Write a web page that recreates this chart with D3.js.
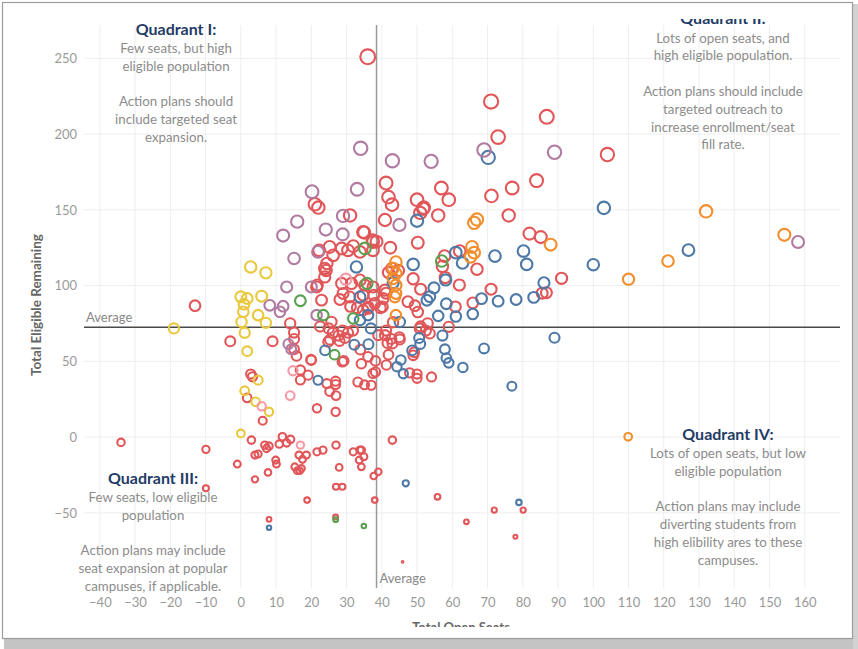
<!DOCTYPE html>
<html>
<head>
<meta charset="utf-8">
<script src="https://cdn.jsdelivr.net/npm/d3@7/dist/d3.min.js"></script>
<style>
  body { margin: 0; background: #fff; }
  svg { display: block; }
</style>
</head>
<body>
<svg id="chart" width="858" height="649"></svg>
<script>
// Points : [Total Open Seats, Total Eligible Remaining]
const redPoints = [
  [36,251],[71,221.5],[86.8,211.4],[73,198],[104,186.5],[41.2,167.7],[56.9,164.4],[59,156.7],[77,164.4],[83.9,169.3],
  [71.1,159.2],[41.9,158.4],[42.9,153.4],[50,156.7],[51.9,151.5],[50.9,148],[21,153.7],[22,151.5],[31,146.3],[56,146.3],
  [76,146.3],[40.9,143.3],[35,135],[34.7,135.4],[38.5,129],[50.2,128.3],[81.9,134.3],[85.1,132],[91,104.8],[85.5,95],
  [86.7,95.3],[71,97.6],[59,72.8],[60.9,86],[65.8,88.6],[62,100.4],[67,110.8],[62.1,122.8],[57.8,119.5],[57.2,112.7],
  [58,105.3],[51,97.6],[48.9,104.5],[49.4,86.7],[50.2,82.6],[52.5,70.3],[51,73],[49.2,56],[54.1,39.7],[50,38.8],
  [50,41.6],[41.3,47.6],[41.9,54.4],[38.2,50.3],[38.2,43],[37,34.2],[35.1,34.5],[33.2,36.4],[34.2,48.4],[33.9,57.7],
  [26.9,36.9],[26.9,34.7],[24.4,35.3],[25.2,30.1],[27,27.4],[16.9,37.7],[16.9,44.3],[19.9,51.1],[15.8,53.6],[15.1,58],
  [21.6,19],[26.9,16.7],[29.2,50.3],[15.1,69],[15.1,64.8],[14,75],[9,63.2],[-3,63.2],[-13,86.7],
  [37.4,130],[22.2,123.3],[25.2,125.5],[26.2,120],[28.6,124.5],[30.4,123.3],[31.9,126],[33.8,122.2],[37.5,123.3],[23.8,111.3],
  [23.8,105.7],[21.5,99.1],[22.9,90.4],[28.6,101.4],[31.4,101.4],[29,94.8],[30.9,92.5],[28.1,90.8],[34.7,93.7],[37.5,99.1],
  [36.1,86],[34.7,83.8],[25.7,76],[51.7,150.8],[40.9,97],[40.4,91.5],[40.2,86],[37.7,93.7],[38,88.2],[36.1,84.9],
  [33.8,103.6],[35.2,100.3],[37.5,128.8],[2.8,41.6],[3.3,39.8],[1.8,25.9],[6.2,10.8],[19.1,40.9],[20,50.8],[24.8,62.9],
  [28.8,49.7],[37.5,42],[53.6,68.4],[50.8,71.7],[53,75],[48.9,54],[47.9,42.4],[43,61.8],[45.1,64.4],[40.9,67.3],
  [39,67.3],[36.1,53],[21.7,100.4],[24.2,110],[24.4,114.6],[39.6,85.3],[41.2,95],[31.1,86.2],[33,85.3],[24.9,71.7],
  [26.1,68.9],[27.7,67],[28.9,70.3],[30.4,68.9],[29.5,65.4],[28,63.5],[31.8,70.3],[25.3,64.3],[22.5,73],[41.2,70.3],
  [42.7,64.8],[43.2,75.8],[45,65.9],[41.6,62.1],[47.4,89.4],[42.9,111.3],[41.9,108.6],[44.7,110],[42.4,125],
  [43,-2],[34.2,-8.6],[34.9,-13],[34.2,-19.6],[39,-22.9],[37.7,-25.7],[55.8,-39.4],[38,-41.6],[64,-55.9],[71.9,-48.2],
  [80.1,-48.2],[77.9,-65.8],[45.9,-82.3],[-9.9,-8.1],[-1,-17.8],[3,-2],[4,-11.9],[4.9,-11.2],[6.8,-5.3],[7.3,-7.5],
  [8,-5.9],[7.7,-23.3],[4,-27.9],[9.9,-15.2],[10.1,-17.8],[10.9,-4.6],[11.8,0.2],[13,-3.8],[14.1,-1.5],[16.5,-11.9],
  [18.6,-11.9],[17.5,-14.7],[15.3,-19.6],[16,-22.2],[16.7,-22.2],[17.2,-20.7],[21.6,-9.7],[23.3,-8.6],[27,-5.3],[27.9,-20],
  [31.9,-9.7],[33.8,-8.6],[33.6,-15.2],[27,-32.8],[28.8,-32.8],[18.8,-41.6],[-9.9,-33.8],[-34,-3.5],[8,-54.3],[26.9,-52.8]
];
const bluePoints = [
  [70.2,184.6],[103,151.3],[50,142.8],[127,123.4],[100,113.8],[80.2,122.8],[81.1,114],[72.1,119.5],[86,101.8],[83.1,92.2],
  [78.1,90.8],[73,89.7],[68.3,91.4],[89,65.6],[69,58.5],[76.9,33.6],[63,46],[59,49],[58.3,52.2],[57.9,58],
  [57.2,67],[61,79.6],[56,80],[58.3,88],[65.8,81.2],[62.9,114.9],[61,121.7],[58.1,103.7],[54.8,98.5],[53.6,92.7],
  [52.8,90.3],[48.9,114],[50.6,65.4],[50.9,61.5],[48.6,57.2],[46.1,41.8],[45.4,50.9],[44.3,46.5],[36.2,61.3],[32.2,61],
  [21.9,37.5],[23.9,57.2],[32.8,112.3],[33.8,92.5],[33.8,77.2],[45.1,76],[43.2,101.8],[36.1,80.5],[36.9,71.7],
  [46.8,-30.5],[78.9,-43.1],[8,-59.8]
];
const orangePoints = [
  [132,149],[66.2,141.4],[67,143.6],[87.9,127],[154.2,133.5],[121.2,116.2],[110,104.2],[65.6,125.5],[66.2,121.7],[65.2,119],
  [44,115.6],[43.2,111.3],[44,108],[43.2,104.7],[44,100.3],[44,94.8],[43.7,92.5],[44,80.5],[109.9,0.2]
];
const yellowPoints = [
  [-19,71.7],[2.8,112.3],[7.1,108.4],[0,92.6],[1.8,91.5],[0.9,87.7],[5.9,93],[0.7,82.7],[4.9,80.5],[7.1,75.4],
  [0.2,76],[1.1,68.8],[1.8,56.7],[4.9,37.6],[1.1,30.6],[4.2,23.3],[8,16.7],[0,2.4]
];
const greenPoints = [
  [16.9,90],[35.2,124.5],[35.8,101.4],[23.4,80.5],[31.9,78.3],[57,116.2],[26.6,54.4],[26.9,-54.5],[34.9,-58.7]
];
const purplePoints = [
  [34,190.6],[43,182.4],[54,182],[69,189.5],[89,188],[20.2,162],[33,163.6],[29,146],[45,140],[16,142.2],
  [24.1,137],[12,133],[28.9,133.8],[158.1,128.8],[14.3,58],[13.5,61.5],[15.1,117.9],[13,99.1],[20,99.1],[8.2,87],
  [11.1,82.7],[12,86.4],[21.5,80.5],[21.9,122.3]
];
const pinkPoints = [[14.8,43.8],[14,27.4],[5.9,20.4],[16.9,-5.3],[29.8,104.2]];

const xTickValues = [-40,-30,-20,-10,0,10,20,30,40,50,60,70,80,90,100,110,120,130,140,150,160];
const yTickValues = [-50,0,50,100,150,200,250];
const avgOpenSeats = 38.5;
const avgEligible = 72.5;

const quadrantNotes = [
  { title: "Quadrant I:", lines: ["Few seats, but high", "eligible population", "", "Action plans should", "include targeted seat", "expansion."] },
  { title: "Quadrant II:", lines: ["Lots of open seats, and", "high eligible population.", "", "Action plans should include", "targeted outreach to", "increase enrollment/seat", "fill rate."] },
  { title: "Quadrant III:", lines: ["Few seats, low eligible", "population", "", "Action plans may include", "seat expansion at popular", "campuses, if applicable."] },
  { title: "Quadrant IV:", lines: ["Lots of open seats, but low", "eligible population", "", "Action plans may include", "diverting students from", "high elibility ares to these", "campuses."] }
];

const series = [
  { points: redPoints, color: "#e15759" },
  { points: bluePoints, color: "#4e79a7" },
  { points: purplePoints, color: "#b07aa1" },
  { points: orangePoints, color: "#f28e2b" },
  { points: yellowPoints, color: "#e9c83d" },
  { points: greenPoints, color: "#59a14f" },
  { points: pinkPoints, color: "#f59aa6" }
];

const svg = d3.select("#chart");

// cadre style capture d'écran
svg.append("rect").attr("x", 4).attr("y", 639).attr("width", 854).attr("height", 10).attr("fill", "#c4c4c4");
svg.append("rect").attr("x", 853).attr("y", 4).attr("width", 5).attr("height", 645).attr("fill", "#d2d2d2");
svg.append("rect")
  .attr("x", 2.5).attr("y", 2.5).attr("width", 850).attr("height", 636)
  .attr("fill", "#fff").attr("stroke", "#9c9c9c").attr("stroke-width", 1.2);

svg.append("clipPath").attr("id", "clip")
  .append("rect").attr("x", 3).attr("y", 19).attr("width", 849).attr("height", 608);

const g = svg.append("g").attr("clip-path", "url(#clip)");

const x = d3.scaleLinear().domain([-44.5, 170]).range([84, 840]);
const y = d3.scaleLinear().domain([-100, 272]).range([588.6, 25]);
const r = d3.scaleSqrt().domain([0, 340]).range([0, 7.4]);

// grille
g.append("g").selectAll("line").data(xTickValues).join("line")
  .attr("x1", d => x(d)).attr("x2", d => x(d)).attr("y1", 25).attr("y2", 588.6)
  .attr("stroke", "#eeeeee").attr("stroke-width", 1);
g.append("g").selectAll("line").data(yTickValues).join("line")
  .attr("x1", 84).attr("x2", 840).attr("y1", d => y(d)).attr("y2", d => y(d))
  .attr("stroke", "#eeeeee").attr("stroke-width", 1);

// axes
const xAxis = g.append("g")
  .attr("transform", "translate(0,595)")
  .call(d3.axisBottom(x).tickValues(xTickValues).tickSize(0).tickPadding(0));
xAxis.select(".domain").remove();
xAxis.selectAll("text")
  .attr("dy", "0.9em")
  .attr("fill", "#9a9a9a").style("font-family", "Lato, sans-serif").style("font-size", "13px");

const yAxis = g.append("g")
  .attr("transform", "translate(77,0)")
  .call(d3.axisLeft(y).tickValues(yTickValues).tickSize(0).tickPadding(0));
yAxis.select(".domain").remove();
yAxis.selectAll("text")
  .attr("fill", "#9a9a9a").style("font-family", "Lato, sans-serif").style("font-size", "13px");

g.append("text")
  .attr("transform", "translate(41,305) rotate(-90)")
  .attr("text-anchor", "middle")
  .attr("fill", "#666").style("font-family", "Lato, sans-serif").style("font-size", "13.5px").style("font-weight", "bold")
  .text("Total Eligible Remaining");
g.append("text")
  .attr("x", 461).attr("y", 632)
  .attr("text-anchor", "middle")
  .attr("fill", "#666").style("font-family", "Lato, sans-serif").style("font-size", "13px").style("font-weight", "bold")
  .text("Total Open Seats");

// lignes de moyenne
g.append("line")
  .attr("x1", x(avgOpenSeats)).attr("x2", x(avgOpenSeats)).attr("y1", 25).attr("y2", 588)
  .attr("stroke", "#999").attr("stroke-width", 1.5);
g.append("line")
  .attr("x1", 84).attr("x2", 840).attr("y1", y(avgEligible)).attr("y2", y(avgEligible))
  .attr("stroke", "#4a4a4a").attr("stroke-width", 1.6);

g.append("text").attr("x", 86).attr("y", y(avgEligible) - 5)
  .attr("fill", "#888").style("font-family", "Lato, sans-serif").style("font-size", "13px").text("Average");
g.append("text").attr("x", x(avgOpenSeats) + 3).attr("y", 583)
  .attr("fill", "#888").style("font-family", "Lato, sans-serif").style("font-size", "13px").text("Average");

// points
series.forEach(s => {
  g.append("g").selectAll("circle")
    .data(s.points)
    .join("circle")
    .attr("cx", d => x(d[0]))
    .attr("cy", d => y(d[1]))
    .attr("r", d => r(d[1] + 90))
    .attr("fill", "none")
    .attr("stroke", s.color)
    .attr("stroke-width", d => d[1] < -75 ? 1.5 : 2.1);
});

// textes des quadrants
const notePos = [
  { cx: 176, top: 34.5 },
  { cx: 723, top: 24 },
  { cx: 153, top: 483.5 },
  { cx: 728, top: 439.5 }
];
quadrantNotes.forEach((q, i) => {
  const p = notePos[i];
  g.append("text")
    .attr("x", p.cx).attr("y", p.top)
    .attr("text-anchor", "middle")
    .attr("fill", "#1f3c66").style("font-family", "Lato, sans-serif").style("font-size", "16px").style("font-weight", "bold")
    .text(q.title);
  g.append("g").selectAll("text")
    .data(q.lines)
    .join("text")
    .attr("x", p.cx)
    .attr("y", (d, j) => p.top + 18.5 + j * 17.8)
    .attr("text-anchor", "middle")
    .attr("fill", "#8c8c8c").style("font-family", "Lato, sans-serif").style("font-size", "13.3px")
    .text(d => d);
});
</script>
</body>
</html>
